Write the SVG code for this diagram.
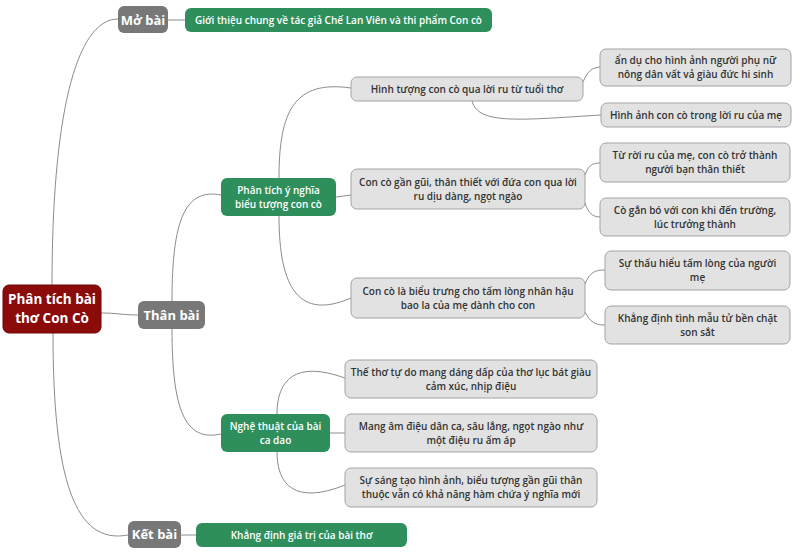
<svg xmlns="http://www.w3.org/2000/svg" width="800" height="553" viewBox="0 0 800 553">
<style>
.bg{fill:#ffffff}
.conn path{fill:none;stroke:#8c8c8c;stroke-width:1}
text{font-family:"Open Sans","Noto Sans","DejaVu Sans",sans-serif;text-anchor:middle}
.root rect{fill:#8b0a0a;stroke:#6e0808;stroke-width:1}
.root text{fill:#fff;font-size:13.5px;font-weight:700}
.sec rect{fill:#787878}
.sec text{fill:#fff;font-size:13px;font-weight:700}
.grn rect{fill:#2f8f5c}
.grn text{fill:#fff;font-size:10px;font-weight:600}
.gry rect{fill:#e2e2e2;stroke:#a3a3a3;stroke-width:1}
.gry text{fill:#333;font-size:10px;font-weight:600}
</style>
<rect class="bg" x="0" y="0" width="800" height="553"/>
<g id="connectors" class="conn">
<path d="M52,285 C52,120 75,19 118,19"/>
<path d="M101,313 C118,313 122,315 138,315"/>
<path d="M53,333 C53,480 75,545 128,535"/>
<path d="M168,20 L185,20"/>
<path d="M181,535 L196,535"/>
<path d="M172,301 C172,220 185,188 221,195"/>
<path d="M172,329 C172,410 185,442 221,434"/>
<path d="M279,178 C279,110 295,80 351,88"/>
<path d="M336,197 L351,195"/>
<path d="M279,216 C279,290 300,320 351,298"/>
<path d="M277,414 C277,380 295,360 345,378"/>
<path d="M330,433 L345,433"/>
<path d="M277,452 C277,485 295,505 345,485"/>
<path d="M583,82 C588,70 592,68 600,67"/>
<path d="M472,101 C478,125 520,120 601,115"/>
<path d="M585,175 C588,166 592,163 600,163"/>
<path d="M585,203 C588,212 592,217 600,217"/>
<path d="M585,284 C590,272 595,270 605,270"/>
<path d="M585,312 C590,322 595,325 605,325"/>
</g>
<g id="root" class="root"><rect x="3" y="285" width="98" height="48" rx="6"/><text x="52" y="304">Phân tích bài</text><text x="52" y="323">thơ Con Cò</text></g>
<g id="mo-bai" class="sec"><rect x="118" y="6" width="50" height="27" rx="6"/><text x="143" y="24.5">Mở bài</text></g>
<g id="than-bai" class="sec"><rect x="138" y="301" width="67" height="28" rx="6"/><text x="171.5" y="319.5">Thân bài</text></g>
<g id="ket-bai" class="sec"><rect x="128" y="521" width="53" height="27" rx="6"/><text x="154.5" y="539">Kết bài</text></g>
<g id="gioi-thieu" class="grn"><rect x="185" y="8" width="307" height="24" rx="6"/><text x="338.5" y="23.5">Giới thiệu chung về tác giả Chế Lan Viên và thi phẩm Con cò</text></g>
<g id="khang-dinh-gia-tri" class="grn"><rect x="196" y="523" width="211" height="24" rx="6"/><text x="301.5" y="538.5">Khẳng định giá trị của bài thơ</text></g>
<g id="phan-tich" class="grn"><rect x="221" y="178" width="115" height="38" rx="6"/><text x="278.5" y="193.5">Phân tích ý nghĩa</text><text x="278.5" y="207.5">biểu tượng con cò</text></g>
<g id="nghe-thuat" class="grn"><rect x="221" y="414" width="109" height="38" rx="6"/><text x="275.5" y="429.5">Nghệ thuật của bài</text><text x="275.5" y="443.5">ca dao</text></g>
<g id="hinh-tuong" class="gry"><rect x="351" y="77" width="232" height="24" rx="6"/><text x="467" y="92.5">Hình tượng con cò qua lời ru từ tuổi thơ</text></g>
<g id="an-du" class="gry"><rect x="600" y="49" width="191" height="37" rx="6"/><text x="695.5" y="64">ẩn dụ cho hình ảnh người phụ nữ</text><text x="695.5" y="78">nông dân vất vả giàu đức hi sinh</text></g>
<g id="hinh-anh" class="gry"><rect x="601" y="103" width="190" height="24" rx="6"/><text x="696" y="118.5">Hình ảnh con cò trong lời ru của mẹ</text></g>
<g id="gan-gui" class="gry"><rect x="351" y="169" width="234" height="40" rx="6"/><text x="468" y="185.5">Con cò gần gũi, thân thiết với đứa con qua lời</text><text x="468" y="199.5">ru dịu dàng, ngọt ngào</text></g>
<g id="tu-roi-ru" class="gry"><rect x="600" y="143" width="190" height="39" rx="6"/><text x="695" y="159">Từ rời ru của mẹ, con cò trở thành</text><text x="695" y="173">người bạn thân thiết</text></g>
<g id="gan-bo" class="gry"><rect x="600" y="198" width="190" height="38" rx="6"/><text x="695" y="213.5">Cò gắn bó với con khi đến trường,</text><text x="695" y="227.5">lúc trưởng thành</text></g>
<g id="bieu-trung" class="gry"><rect x="351" y="278" width="234" height="40" rx="6"/><text x="468" y="294.5">Con cò là biểu trưng cho tấm lòng nhân hậu</text><text x="468" y="308.5">bao la của mẹ dành cho con</text></g>
<g id="thau-hieu" class="gry"><rect x="605" y="251" width="185" height="39" rx="6"/><text x="697.5" y="267">Sự thấu hiểu tấm lòng của người</text><text x="697.5" y="281">mẹ</text></g>
<g id="mau-tu" class="gry"><rect x="605" y="306" width="185" height="38" rx="6"/><text x="697.5" y="321.5">Khẳng định tình mẫu tử bền chặt</text><text x="697.5" y="335.5">son sắt</text></g>
<g id="the-tho" class="gry"><rect x="345" y="360" width="252" height="38" rx="6"/><text x="471" y="375.5">Thế thơ tự do mang dáng dấp của thơ lục bát giàu</text><text x="471" y="389.5">cảm xúc, nhịp điệu</text></g>
<g id="am-dieu" class="gry"><rect x="345" y="414" width="252" height="38" rx="6"/><text x="471" y="429.5">Mang âm điệu dân ca, sâu lắng, ngọt ngào như</text><text x="471" y="443.5">một điệu ru ấm áp</text></g>
<g id="sang-tao" class="gry"><rect x="345" y="468" width="252" height="39" rx="6"/><text x="471" y="484">Sự sáng tạo hình ảnh, biểu tượng gần gũi thân</text><text x="471" y="498">thuộc vẫn có khả năng hàm chứa ý nghĩa mới</text></g>
</svg>
